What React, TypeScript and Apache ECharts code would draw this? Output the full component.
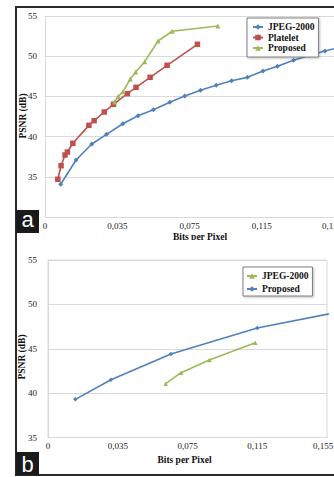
import React, { useEffect, useRef } from "react";
import * as echarts from "echarts";

// Axis offset: tick labels read 0, 0,035, 0,075 ... evenly spaced
const OFFSET = 0.005;
const yTicksTop = [30, 35, 40, 45, 50, 55];
const yTicksBottom = [35, 40, 45, 50, 55];

// Panel a
const aJpegX = [0.0037, 0.0122, 0.0209, 0.0291, 0.0381, 0.0465, 0.055, 0.0641, 0.0724, 0.0811, 0.0898, 0.0983, 0.1071, 0.1157, 0.1237, 0.1326, 0.1414, 0.150, 0.159];
const aJpegY = [34.07, 37.09, 39.08, 40.28, 41.6, 42.6, 43.35, 44.26, 45.05, 45.76, 46.38, 46.95, 47.37, 48.16, 48.74, 49.49, 50.09, 50.65, 51.15];
const aPlateletX = [0.0021, 0.0039, 0.0061, 0.0074, 0.0104, 0.0193, 0.0222, 0.0278, 0.0329, 0.0406, 0.0454, 0.0532, 0.0626, 0.0794];
const aPlateletY = [34.69, 36.38, 37.71, 38.08, 39.17, 41.4, 41.98, 43.06, 44.02, 45.34, 46.13, 47.37, 48.87, 51.48];
const aProposedX = [0.0335, 0.0355, 0.0381, 0.0422, 0.0452, 0.0502, 0.0576, 0.0654, 0.0907];
const aProposedY = [44.3, 45.0, 45.58, 47.16, 48.03, 49.32, 51.89, 53.1, 53.76];

// Panel b
const bJpegX = [0.0625, 0.0713, 0.0875, 0.1139];
const bJpegY = [41.06, 42.3, 43.73, 45.68];
const bProposedX = [0.0107, 0.0311, 0.0655, 0.115, 0.165];
const bProposedY = [39.3, 41.51, 44.41, 47.34, 49.27];

const BLUE = "#4F81BD";
const RED = "#C0504D";
const GREEN = "#9BBB59";
const SERIF = "'Liberation Serif', 'Times New Roman', serif";
const SANS = "'Liberation Sans', Arial, sans-serif";
const GRID = "#d9d9d9";

const pts = (xs: number[], ys: number[]) => xs.map((x, i) => [x + OFFSET, ys[i]]);
const fmtX = (v: number) => (Math.abs(v) < 1e-9 ? "0" : (v - OFFSET).toFixed(3).replace(".", ","));
const fmtXShift = (v: number) => (Math.abs(v - 0.16) < 1e-9 ? "{m|" + fmtX(v) + "}" : fmtX(v));

function lineSeries(name: string, color: string, data: number[][], symbol: string, size: number) {
  return {
    type: "line",
    name,
    data,
    symbol,
    symbolSize: size,
    showSymbol: true,
    clip: true,
    lineStyle: { color, width: 1.6 },
    itemStyle: { color },
    emphasis: { disabled: true },
  };
}

function baseAxes(yMin: number, yMax: number, yTicks: number[], yMargin: number, hideMinY: boolean, maxPad: number) {
  return {
    xAxis: {
      type: "value",
      min: 0,
      max: 0.16,
      interval: 0.04,
      axisLine: { show: true, lineStyle: { color: GRID, width: 1 } },
      axisTick: { show: false },
      splitLine: { show: false },
      axisLabel: {
        formatter: fmtXShift,
        fontSize: 9,
        fontFamily: SERIF,
        color: "#222",
        margin: 4,
        showMinLabel: true,
        showMaxLabel: true,
        rich: { m: { fontSize: 9, fontFamily: SERIF, color: "#222", padding: [0, maxPad, 0, 0] } },
      },
    },
    yAxis: {
      type: "value",
      min: yMin,
      max: yMax,
      interval: 5,
      axisLine: { show: true, lineStyle: { color: GRID, width: 1 } },
      axisTick: { show: false },
      splitLine: { show: true, lineStyle: { color: GRID, width: 1 } },
      axisLabel: {
        formatter: (v: number) => (hideMinY && v === yTicks[0] ? "" : String(v)),
        fontSize: 9,
        fontFamily: SERIF,
        color: "#222",
        margin: yMargin,
      },
    },
  };
}

const legendBase = {
  orient: "vertical",
  backgroundColor: "#fff",
  borderColor: "#7f7f7f",
  borderWidth: 1,
  shadowColor: "rgba(0,0,0,0.25)",
  shadowBlur: 2,
  shadowOffsetX: 1,
  shadowOffsetY: 1,
  itemWidth: 10,
  itemHeight: 7,
  selectedMode: false,
  textStyle: { fontFamily: SERIF, fontSize: 9.5, fontWeight: "bold", color: "#111", lineHeight: 10 },
};

function Panel({ option, top, height }: { option: any; top: number; height: number }) {
  const ref = useRef<HTMLDivElement>(null);
  useEffect(() => {
    if (!ref.current) return;
    const chart = echarts.init(ref.current, undefined, { renderer: "svg" });
    chart.setOption(option);
    return () => chart.dispose();
  }, [option]);
  return <div ref={ref} style={{ position: "absolute", left: 0, top, width: 334, height }} />;
}

const optionA = {
  animation: false,
  grid: { left: 45, top: 16, right: 0, height: 201, show: false, outerBoundsMode: "none", containLabel: false },
  ...baseAxes(30, 55, yTicksTop, 8, true, 4),
  legend: {
    ...legendBase,
    left: 247,
    top: 18,
    padding: [4, 4, 4, 5],
    itemGap: 0.5,
    data: ["JPEG-2000", "Platelet", "Proposed"],
  },
  series: [
    lineSeries("JPEG-2000", BLUE, pts(aJpegX, aJpegY), "diamond", 5),
    lineSeries("Platelet", RED, pts(aPlateletX, aPlateletY), "rect", 5.5),
    lineSeries("Proposed", GREEN, pts(aProposedX, aProposedY), "triangle", 5),
  ],
  graphic: [
    { type: "text", x: 23, y: 116, rotation: Math.PI / 2, z: 50, style: { text: "PSNR (dB)", fontFamily: SERIF, fontSize: 9.5, fontWeight: "bold", fill: "#111", textAlign: "center", textVerticalAlign: "middle" } },
    { type: "text", x: 200, y: 236.5, z: 50, style: { text: "Bits per Pixel", fontFamily: SERIF, fontSize: 9.5, fontWeight: "bold", fill: "#111", textAlign: "center", textVerticalAlign: "middle" } },
    { type: "rect", shape: { x: 16, y: 210, width: 23, height: 23 }, z: 100, style: { fill: "#1a1a1a" } },
    { type: "text", x: 27.5, y: 219.5, z: 101, style: { text: "a", fontFamily: SANS, fontSize: 22, fill: "#fff", textAlign: "center", textVerticalAlign: "middle" } },
  ],
};

const optionB = {
  animation: false,
  grid: { left: 48, top: 20, width: 279, height: 177.5, show: true, borderColor: GRID, borderWidth: 1, outerBoundsMode: "none", containLabel: false },
  ...baseAxes(35, 55, yTicksBottom, 11, false, 8),
  legend: {
    ...legendBase,
    left: 243,
    top: 27,
    padding: [4, 4, 2, 3],
    itemGap: 3,
    data: ["JPEG-2000", "Proposed"],
  },
  series: [
    lineSeries("JPEG-2000", GREEN, pts(bJpegX, bJpegY), "triangle", 4.5),
    lineSeries("Proposed", BLUE, pts(bProposedX, bProposedY), "diamond", 4.5),
  ],
  graphic: [
    { type: "text", x: 22, y: 117, rotation: Math.PI / 2, z: 50, style: { text: "PSNR (dB)", fontFamily: SERIF, fontSize: 9.5, fontWeight: "bold", fill: "#111", textAlign: "center", textVerticalAlign: "middle" } },
    { type: "text", x: 184.5, y: 220, z: 50, style: { text: "Bits per Pixel", fontFamily: SERIF, fontSize: 9.5, fontWeight: "bold", fill: "#111", textAlign: "center", textVerticalAlign: "middle" } },
    { type: "rect", shape: { x: 16, y: 212, width: 23, height: 23 }, z: 100, style: { fill: "#1a1a1a" } },
    { type: "text", x: 27.5, y: 224, z: 101, style: { text: "b", fontFamily: SANS, fontSize: 22, fill: "#fff", textAlign: "center", textVerticalAlign: "middle" } },
  ],
};

export default function App() {
  return (
    <div style={{ position: "fixed", left: 0, top: 0, width: 334, height: 477, overflow: "hidden", background: "#fff" }}>
      <div style={{ position: "absolute", left: 15, top: 6, width: 360, height: 466, border: "2px solid #2a2a2a" }} />
      <Panel option={optionA} top={0} height={240} />
      <Panel option={optionB} top={240} height={237} />
    </div>
  );
}
